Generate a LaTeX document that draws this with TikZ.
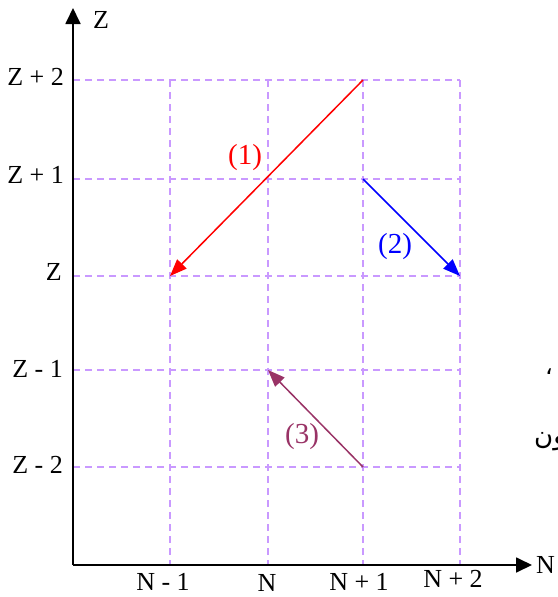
\documentclass[tikz,border=0pt]{standalone}
\usepackage{fontspec}
\setmainfont{Liberation Serif}
\newfontfamily\arabicfont[Script=Arabic]{DejaVu Sans}
\TeXXeTstate=1
\usetikzlibrary{arrows.meta}
\definecolor{gridviolet}{HTML}{C999FF}
\definecolor{plum}{HTML}{993366}
\begin{document}
\begin{tikzpicture}[x=1pt,y=-1pt,
  gridline/.style={gridviolet,line width=1.4pt,dash pattern=on 7pt off 5pt},
  axis/.style={black,line width=1.8pt,-{Triangle[length=16pt,width=15pt]}},
  move/.style={line width=1.5pt,-{Triangle[length=17pt,width=13pt]}},
  axlabel/.style={font=\fontsize{26}{28}\selectfont,inner sep=0pt},
  mvlabel/.style={font=\fontsize{29}{31}\selectfont,inner sep=0pt}]
\useasboundingbox (0,0) rectangle (557,597);
% grid coordinates
\coordinate (O) at (73,565);
\coordinate (Ztip) at (73,8);
\coordinate (Ntip) at (532,565);
\foreach \n/\y in {p2/80,p1/179,z0/276,m1/370,m2/467}{
  \coordinate (L\n) at (73,\y);
  \coordinate (R\n) at (460,\y);
}
\foreach \n/\x in {c1/170,c2/268,c3/363,c4/460}{
  \coordinate (T\n) at (\x,80);
  \coordinate (B\n) at (\x,565);
}
% dashed grid
\foreach \n in {p2,p1,z0,m1,m2}{\draw[gridline] (L\n) -- (R\n);}
\foreach \n in {c1,c2,c3,c4}{\draw[gridline] (T\n) -- (B\n);}
% axes
\draw[axis] (O) -- (Ztip);
\draw[axis] (O) -- (Ntip);
% axis labels
\node[axlabel,anchor=base west] (zlab) at (93,28) {Z};
\node[axlabel,anchor=base west] (nlab) at (536,573) {N};
\node[axlabel,anchor=base east] (zp2) at (64,85) {Z + 2};
\node[axlabel,anchor=base east] (zp1) at (64,183) {Z + 1};
\node[axlabel,anchor=base east] (z0) at (62,280) {Z};
\node[axlabel,anchor=base east] (zm1) at (63,377) {Z - 1};
\node[axlabel,anchor=base east] (zm2) at (63,473) {Z - 2};
\node[axlabel,anchor=base] (nm1) at (163,590) {N - 1};
\node[axlabel,anchor=base] (n0) at (267,591) {N};
\node[axlabel,anchor=base] (np1) at (359,590) {N + 1};
\node[axlabel,anchor=base] (np2) at (453,587) {N + 2};
% grid points
\coordinate (a1) at (363,80);
\coordinate (b1) at (170,276);
\coordinate (a2) at (363,179);
\coordinate (b2) at (460,276);
\coordinate (a3) at (363,467);
\coordinate (b3) at (268,370);
% moves
\draw[move,red] (a1) -- (b1);
\draw[move,blue] (a2) -- (b2);
\draw[move,plum] (a3) -- (b3);
\node[mvlabel,text=red] (l1) at (245,158) {(1)};
\node[mvlabel,text=blue] (l2) at (395,247) {(2)};
\node[mvlabel,text=plum] (l3) at (302,437) {(3)};
% stray Arabic fragments at the right edge
\node[inner sep=0pt,font=\arabicfont\fontsize{24}{26}\selectfont] (comma) at (549,372) {\beginR ،\endR};
\node[inner sep=0pt,anchor=base west,font=\arabicfont\fontsize{26}{28}\selectfont] (frag) at (534,444) {\beginR ون\endR};
\end{tikzpicture}
\end{document}
